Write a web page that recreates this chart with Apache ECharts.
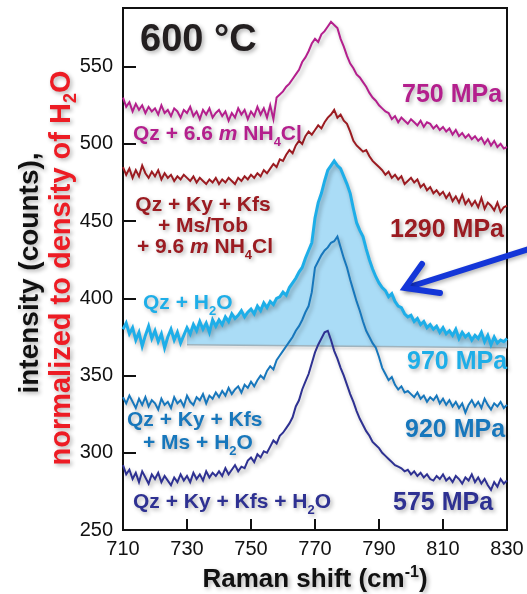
<!DOCTYPE html>
<html>
<head>
<meta charset="utf-8">
<script src="https://cdn.jsdelivr.net/npm/echarts@6/dist/echarts.min.js"></script>
<style>html,body{margin:0;padding:0;background:#fff}#c{width:527px;height:594px}</style>
</head>
<body>
<div id="c"></div>
<script>
// Raman shift grid (cm-1)
const shift = [710,711,712,713,714,715,716,717,718,719,720,721,722,723,724,725,726,727,728,729,
730,731,732,733,734,735,736,737,738,739,740,741,742,743,744,745,746,747,748,749,
750,751,752,753,754,755,756,757,758,759,760,761,762,763,764,765,766,767,768,769,
770,771,772,773,774,775,776,777,778,779,780,781,782,783,784,785,786,787,788,789,
790,791,792,793,794,795,796,797,798,799,800,801,802,803,804,805,806,807,808,809,
810,811,812,813,814,815,816,817,818,819,820,821,822,823,824,825,826,827,828,829,830];

// 750 MPa : Qz + 6.6 m NH4Cl
const s750 = [530,524,527,521,526,522,525,520,524,521,
523,519,525,520,522,518,523,521,517,522,
520,524,518,521,516,522,519,523,517,520,
522,518,521,515,520,517,523,519,522,516,
521,518,524,519,523,517,525,516,530,532,
534,537,539,542,545,548,553,556,560,565,
568,566,571,573,576,579,577,575,568,563,
557,552,549,545,543,540,537,533,530,528,
525,523,521,520,516,518,514,517,515,513,
516,514,512,515,511,514,513,510,512,509,
511,508,510,506,509,505,507,504,506,503,
505,502,504,500,503,499,502,498,500,497,498];

// 1290 MPa : Qz + Ky + Kfs + Ms/Tob + 9.6 m NH4Cl
const s1290 = [485,480,484,478,483,479,486,481,478,482,
479,483,477,481,478,480,476,479,477,480,
478,476,479,475,478,476,474,477,475,478,
474,477,475,478,476,474,478,476,479,477,
480,478,481,479,483,481,484,487,485,490,
489,493,496,494,499,502,500,505,508,506,
509,512,510,514,517,519,522,517,519,515,
513,508,502,499,497,495,496,492,489,487,
485,483,480,482,478,480,477,479,474,476,
478,475,477,472,474,470,472,468,470,467,
469,465,468,463,466,462,467,461,464,460,
463,459,465,458,462,460,457,462,456,459,460];

// 970 MPa : Qz + H2O
const s970 = [380,384,377,381,373,378,369,376,382,374,
379,372,377,368,375,380,373,378,371,376,
381,377,383,379,385,380,384,378,386,382,
386,383,388,385,390,387,389,392,388,391,
393,390,395,392,397,394,398,396,400,401,
404,402,407,410,413,417,420,426,431,436,
452,462,468,476,483,486,489,486,484,479,
474,468,458,449,444,440,432,425,419,414,
410,407,405,401,403,398,395,394,390,388,
389,385,387,383,385,381,383,380,382,378,
381,377,379,376,380,374,378,375,377,373,
376,374,378,372,376,370,375,371,373,372,374];

// 920 MPa : Qz + Ky + Kfs + Ms + H2O
const s920 = [336,332,337,333,329,335,331,336,330,334,
332,328,335,331,333,329,336,332,334,330,
337,333,331,336,334,338,332,337,335,339,
336,340,337,342,338,341,343,339,344,342,
346,343,347,350,348,353,356,354,360,363,
366,369,372,375,379,382,386,391,395,404,
420,424,428,431,433,436,437,440,433,426,
420,412,405,398,392,385,379,375,371,368,
362,355,351,347,349,344,341,343,339,340,
338,336,339,335,337,333,336,334,337,332,
335,331,334,330,333,329,332,326,331,334,
330,333,329,335,331,328,332,330,333,329,331];

// 575 MPa : Qz + Ky + Kfs + H2O
const s575 = [292,286,289,283,287,281,288,284,280,286,
283,287,281,285,282,279,284,281,286,282,
285,281,287,283,286,282,288,284,287,285,
288,285,290,286,289,292,288,291,290,295,
297,294,299,297,301,300,304,308,306,311,
313,316,319,323,330,334,341,346,351,358,
365,370,374,378,379,373,366,361,355,350,
344,338,333,327,322,318,314,311,307,305,
303,300,298,296,294,292,291,290,288,289,
286,288,285,287,284,286,283,282,285,283,
286,282,284,281,285,283,280,284,282,286,
281,284,280,283,279,276,281,278,283,280,282];

// baseline of the shaded Qz + H2O peak (start, end)
const fillBase = [[730,370],[830,368]];

const xTicks = [710,730,750,770,790,810,830];
const yTicks = [250,300,350,400,450,500,550];

const FONT = '"Liberation Sans", Arial, Helvetica, sans-serif';
const C = {
  mag: '#b41f8d', red: '#9b1b21', lb: '#1eaee8', mb: '#1777bc', navy: '#2e3192',
  fill: '#aadcf6', arrow: '#1436d8'
};

const chart = echarts.init(document.getElementById('c'), null, {renderer: 'canvas'});

function pairs(arr){ return shift.map((x,i)=>[x, arr[i]]); }
const shadow = {shadowColor:'rgba(0,0,0,0.28)', shadowBlur:4, shadowOffsetX:2, shadowOffsetY:3};
function lineSeries(name, arr, color, w){
  return {name, type:'line', data:pairs(arr), showSymbol:false, symbol:'none', smooth:false,
    lineStyle:Object.assign({color, width:w, join:'miter'}, shadow), z:3, silent:true, animation:false};
}

const richBase = (size, color) => ({
  i: {fontStyle:'italic', fontWeight:'bold', fontSize:size, fontFamily:FONT, color},
  s: {fontWeight:'bold', fontSize:Math.round(size*0.62), fontFamily:FONT, color, verticalAlign:'bottom', padding:[0,0,-4,0]},
  p: {fontWeight:'bold', fontSize:Math.round(size*0.62), fontFamily:FONT, color, verticalAlign:'top', padding:[-2,0,0,0]}
});
function label(x, y, text, color, size, align, extra){
  return Object.assign({
    type:'text', x, y, z:50, silent:true,
    style: {
      text, fill:color, fontSize:size, fontWeight:'bold', fontFamily:FONT,
      align: align||'left', verticalAlign:'middle', rich: richBase(size, color),
      textShadowColor:'rgba(0,0,0,0.3)', textShadowBlur:4, textShadowOffsetX:2, textShadowOffsetY:2
    }
  }, extra||{});
}

const option = {
  backgroundColor:'#ffffff',
  animation:false,
  grid:{left:123, right:20, top:8, bottom:64, show:true, borderColor:'#111', borderWidth:2, backgroundColor:'transparent'},
  xAxis:{
    type:'value', min:710, max:830, interval:20,
    axisLine:{show:true, lineStyle:{color:'#111', width:2}},
    axisTick:{show:true, inside:true, length:11, lineStyle:{color:'#111', width:2}},
    axisLabel:{color:'#111', fontSize:20, fontFamily:FONT, margin:9, showMaxLabel:true},
    splitLine:{show:false}
  },
  yAxis:{
    type:'value', min:250, max:588, interval:50,
    axisLine:{show:true, lineStyle:{color:'#111', width:2}},
    axisTick:{show:true, inside:true, length:13, lineStyle:{color:'#111', width:2}},
    axisLabel:{color:'#111', fontSize:20, fontFamily:FONT, margin:10, showMaxLabel:false},
    splitLine:{show:false}
  },
  series:[
    {
      type:'custom', coordinateSystem:'cartesian2d', silent:true, z:1, animation:false,
      data:[fillBase[0]],
      renderItem:function(params, api){
        const pts=[];
        for(let i=0;i<shift.length;i++){
          if(shift[i]>=fillBase[0][0]) pts.push(api.coord([shift[i], s970[i]]));
        }
        pts.push(api.coord(fillBase[1]));
        pts.push(api.coord(fillBase[0]));
        return {type:'polygon', shape:{points:pts}, style:{fill:C.fill, stroke:null}};
      }
    },
    {type:'line', data:fillBase, showSymbol:false, symbol:'none', z:2, silent:true,
      lineStyle:{color:'#9fb3bd', width:1.5, shadowColor:'rgba(0,0,0,0.25)', shadowBlur:3, shadowOffsetY:2}},
    lineSeries('750 MPa', s750, C.mag, 2),
    lineSeries('1290 MPa', s1290, C.red, 2),
    lineSeries('575 MPa', s575, C.navy, 2),
    lineSeries('920 MPa', s920, C.mb, 2),
    lineSeries('970 MPa', s970, C.lb, 3)
  ],
  graphic:[
    label(140, 41, '600 °C', '#231f20', 38, 'left'),
    label(402, 95, '750 MPa', C.mag, 25, 'left'),
    label(133, 134, 'Qz + 6.6 {i|m} NH{s|4}Cl', C.mag, 21, 'left'),
    label(203, 205, 'Qz + Ky + Kfs', C.red, 21, 'center'),
    label(203, 226, '+ Ms/Tob', C.red, 21, 'center'),
    label(205, 247, '+ 9.6 {i|m} NH{s|4}Cl', C.red, 21, 'center'),
    label(390, 230, '1290 MPa', C.red, 25, 'left'),
    label(143, 303, 'Qz + H{s|2}O', C.lb, 21, 'left'),
    label(407, 362, '970 MPa', C.lb, 25, 'left'),
    label(127, 420, 'Qz + Ky + Kfs', C.mb, 21, 'left'),
    label(143, 443, '+ Ms + H{s|2}O', C.mb, 21, 'left'),
    label(405, 430, '920 MPa', C.mb, 25, 'left'),
    label(133, 502, 'Qz + Ky + Kfs + H{s|2}O', C.navy, 21, 'left'),
    label(393, 503, '575 MPa', C.navy, 25, 'left'),
    label(315, 580, 'Raman shift (cm{p|-1})', '#111', 26, 'center'),
    label(30, 273, 'intensity (counts),', '#111', 28, 'center', {rotation:Math.PI/2}),
    label(62, 268, 'normalized to density of H{s|2}O', '#ed1c24', 29, 'center', {rotation:Math.PI/2}),
    {type:'polyline', z:40, silent:true, shape:{points:[[532,248],[406,288]]},
      style:{stroke:C.arrow, lineWidth:6, lineCap:'round', fill:null, shadowColor:'rgba(0,0,0,0.3)', shadowBlur:4, shadowOffsetX:2, shadowOffsetY:2}},
    {type:'polyline', z:40, silent:true, shape:{points:[[422,264],[405,288],[440,293]]},
      style:{stroke:C.arrow, lineWidth:6, lineCap:'round', lineJoin:'miter', fill:null, shadowColor:'rgba(0,0,0,0.3)', shadowBlur:4, shadowOffsetX:2, shadowOffsetY:2}}
  ]
};
chart.setOption(option);
</script>
</body>
</html>
